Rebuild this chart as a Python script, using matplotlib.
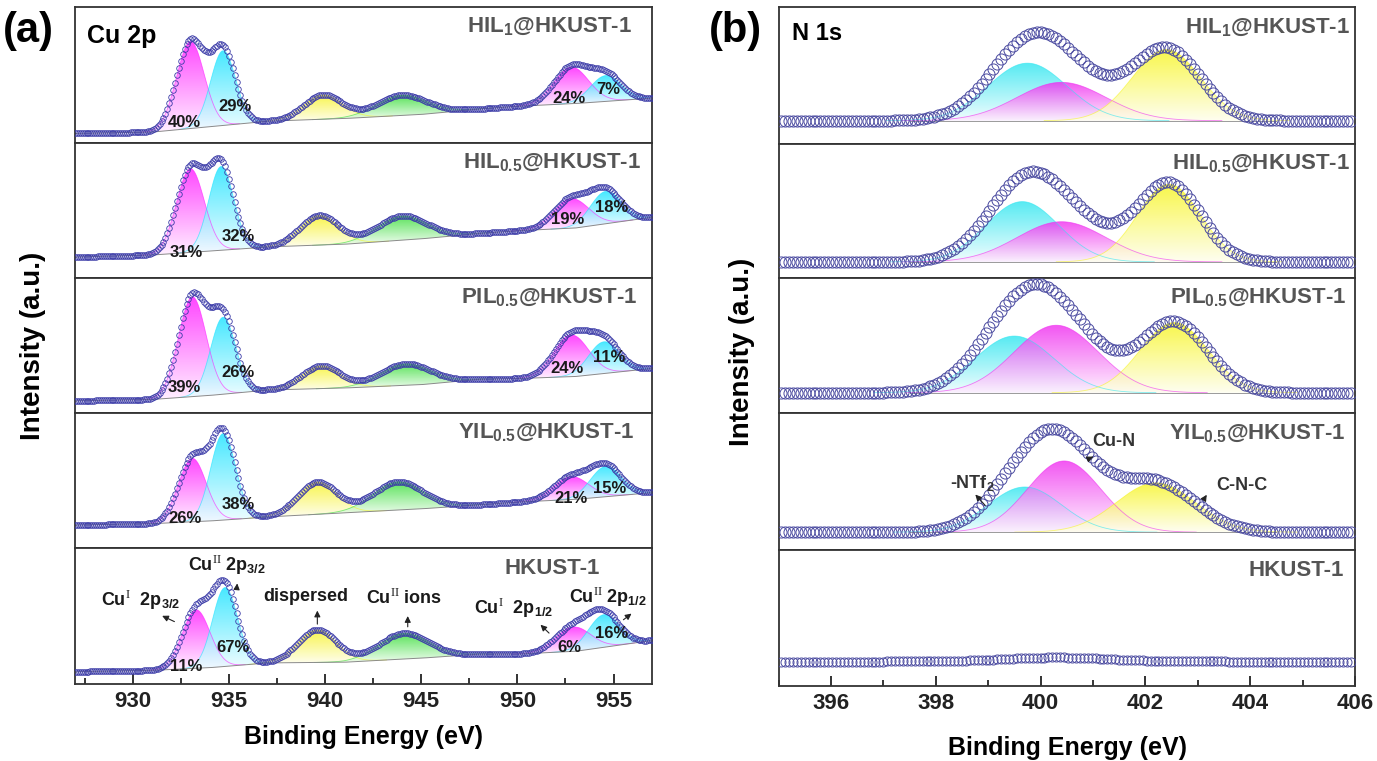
import numpy as np
import matplotlib
matplotlib.use('Agg')
import matplotlib.pyplot as plt
from matplotlib.patches import Polygon
from matplotlib.colors import LinearSegmentedColormap
from matplotlib.ticker import MultipleLocator

plt.rcParams['font.family'] = ['Liberation Sans', 'DejaVu Sans']
plt.rcParams['mathtext.fontset'] = 'custom'
plt.rcParams['mathtext.rm'] = 'Liberation Serif'
plt.rcParams['mathtext.default'] = 'regular'

# ---- panel (a): Cu 2p fits, peak order: CuI 3/2, CuII 3/2, sat1, sat2, CuI 1/2, CuII 1/2
sample_names = ['HIL$_1$@HKUST-1', 'HIL$_{0.5}$@HKUST-1', 'PIL$_{0.5}$@HKUST-1',
                'YIL$_{0.5}$@HKUST-1', 'HKUST-1']
cu_colors = ['#ff1aff', '#19e3ff', '#f7f21c', '#2fdc2f', '#ff1aff', '#19e3ff']
cu_sigma = [0.72, 0.65, 1.0, 1.3, 0.9, 0.8]
cu_centers = [[933.0, 934.7, 939.9, 944.0, 952.8, 954.6],
              [933.0, 934.6, 939.7, 944.0, 952.8, 954.6],
              [933.1, 934.7, 939.8, 944.2, 952.8, 954.5],
              [933.1, 934.7, 939.6, 943.8, 952.8, 954.6],
              [933.3, 934.8, 939.6, 944.1, 952.9, 954.5]]
cu_amps = [[0.64, 0.55, 0.18, 0.15, 0.27, 0.19],
           [0.62, 0.62, 0.22, 0.18, 0.22, 0.24],
           [0.74, 0.57, 0.17, 0.16, 0.31, 0.235],
           [0.47, 0.64, 0.24, 0.21, 0.17, 0.225],
           [0.43, 0.58, 0.24, 0.19, 0.18, 0.24]]
cu_bg_e = [927, 931, 934, 937, 941, 945, 948, 950, 953, 957]
cu_bg = [[0.07, 0.08, 0.12, 0.16, 0.18, 0.21, 0.25, 0.27, 0.29, 0.33],
         [0.155, 0.17, 0.20, 0.23, 0.25, 0.29, 0.33, 0.35, 0.37, 0.45],
         [0.09, 0.10, 0.13, 0.17, 0.185, 0.21, 0.25, 0.255, 0.27, 0.33],
         [0.17, 0.18, 0.20, 0.23, 0.26, 0.29, 0.32, 0.34, 0.36, 0.41],
         [0.09, 0.10, 0.12, 0.155, 0.16, 0.19, 0.22, 0.22, 0.24, 0.32]]
cu_pct = [['40%', '29%', '24%', '7%'],
          ['31%', '32%', '19%', '18%'],
          ['39%', '26%', '24%', '11%'],
          ['26%', '38%', '21%', '15%'],
          ['11%', '67%', '6%', '16%']]
cu_pct_e = [[932.7, 935.3, 952.7, 954.7],
            [932.8, 935.5, 952.6, 954.9],
            [932.7, 935.5, 952.6, 954.8],
            [932.7, 935.5, 952.8, 954.8],
            [932.8, 935.2, 952.7, 954.9]]
cu_pct_y = [[0.15, 0.27, 0.33, 0.39],
            [0.19, 0.31, 0.43, 0.52],
            [0.19, 0.30, 0.33, 0.41],
            [0.22, 0.32, 0.37, 0.44],
            [0.13, 0.27, 0.27, 0.375]]
cu_name_x = [0.965, 0.98, 0.975, 0.97, 0.91]

# ---- panel (b): N 1s fits, peak order: -NTf2, Cu-N, C-N-C
n_colors = ['#2ee6f0', '#f02cf0', '#f7f51e']
n_centers = [[399.75, 400.4, 402.4],
             [399.65, 400.4, 402.45],
             [399.5, 400.3, 402.55],
             [399.7, 400.45, 402.2]]
n_amps = [[0.42, 0.28, 0.52],
          [0.45, 0.30, 0.58],
          [0.42, 0.50, 0.52],
          [0.33, 0.52, 0.36]]
n_sigmas = [[0.75, 0.85, 0.65],
            [0.70, 0.85, 0.60],
            [0.75, 0.80, 0.65],
            [0.70, 0.70, 0.75]]
n_bg = [0.17, 0.12, 0.15, 0.13, 0.18]
hkust_bump = [400.3, 0.03, 1.0]
n_name_x = [0.991, 0.991, 0.985, 0.983, 0.98]

W, H = 1377, 761
fig = plt.figure(figsize=(W / 100, H / 100), dpi=100)


def px_axes(x0, x1, y0, y1):
    return fig.add_axes([x0 / W, 1 - y1 / H, (x1 - x0) / W, (y1 - y0) / H])


def peak(x, c, a, s):
    return a * np.exp(-(x - c) ** 2 / (2 * s ** 2))


def grad_fill(ax, x, lo, hi, color, alpha=0.85):
    verts = np.vstack([np.column_stack([x, hi]), np.column_stack([x[::-1], lo[::-1]])])
    poly = Polygon(verts, closed=True, fc='none', ec='none')
    ax.add_patch(poly)
    cmap = LinearSegmentedColormap.from_list('fade', ['#ffffff', color])
    grad = np.linspace(0.08, 1, 200).reshape(-1, 1)
    im = ax.imshow(grad, cmap=cmap, vmin=0, vmax=1, origin='lower', aspect='auto',
                   extent=[x[0], x[-1], lo.min(), hi.max()], alpha=alpha, zorder=1,
                   interpolation='bilinear')
    im.set_clip_path(poly)
    ax.plot(x, hi, color=color, lw=0.6, alpha=0.6, zorder=2)


def style_axes(ax, xlim, bottom, major, minor):
    ax.set_xlim(*xlim)
    ax.set_ylim(0, 1)
    ax.set_yticks([])
    for sp in ax.spines.values():
        sp.set_linewidth(1.3)
        sp.set_color('#333333')
    if bottom:
        ax.xaxis.set_major_locator(MultipleLocator(major))
        ax.xaxis.set_minor_locator(MultipleLocator(minor))
        ax.tick_params(axis='x', which='major', direction='in', length=7, width=1.3,
                       labelsize=16, pad=5, colors='#222222')
        ax.tick_params(axis='x', which='minor', direction='in', length=4, width=1.1)
        for lab in ax.get_xticklabels():
            lab.set_fontweight('bold')
    else:
        ax.tick_params(axis='x', which='both', bottom=False, labelbottom=False)


# ---- draw (a)
cu_tops = [7, 143, 278, 413, 548]
cu_bots = [143, 278, 413, 548, 684]
xe = np.arange(927.0, 957.01, 0.05)
for i in range(5):
    ax = px_axes(75, 652, cu_tops[i], cu_bots[i])
    bg = np.interp(xe, cu_bg_e, cu_bg[i])
    total = bg.copy()
    for k in range(6):
        c, a, s = cu_centers[i][k], cu_amps[i][k], cu_sigma[k]
        m = np.abs(xe - c) < 3.6 * s
        pk = peak(xe, c, a, s)
        total += pk
        grad_fill(ax, xe[m], bg[m], bg[m] + pk[m], cu_colors[k], alpha=0.8)
    ax.plot(xe, bg, color='#8a8a8a', lw=0.7, zorder=2)
    ax.plot(xe[::2], total[::2], 'o', ms=4.0, mfc='none', mec='#3c3ca8', mew=0.6, zorder=3)
    for t, e, y in zip(cu_pct[i], cu_pct_e[i], cu_pct_y[i]):
        ax.text(e, y, t, fontsize=12, fontweight='bold', color='#1a1a1a',
                ha='center', va='center', zorder=5)
    ax.text(cu_name_x[i], 0.85, sample_names[i], transform=ax.transAxes, ha='right',
            va='center', fontsize=16, fontweight='bold', color='#555555', zorder=5)
    style_axes(ax, (927, 957), i == 4, 5, 2.5)
    if i == 0:
        ax.text(0.02, 0.79, 'Cu 2p', transform=ax.transAxes, fontsize=18,
                fontweight='bold', va='center', ha='left')
    if i == 4:
        arrow = dict(arrowstyle='-|>', lw=0.8, color='#222222', mutation_scale=9)
        notes = [('Cu$^{\\mathrm{I}}$  2p$_{3/2}$', 930.4, 0.62, (932.3, 0.45), (931.4, 0.51)),
                 ('Cu$^{\\mathrm{II}}$ 2p$_{3/2}$', 934.9, 0.875, (935.4, 0.69), (935.45, 0.76)),
                 ('dispersed', 939.0, 0.64, (939.6, 0.42), (939.6, 0.56)),
                 ('Cu$^{\\mathrm{II}}$ ions', 944.1, 0.63, (944.3, 0.40), (944.3, 0.52)),
                 ('Cu$^{\\mathrm{I}}$  2p$_{1/2}$', 949.8, 0.56, (951.75, 0.36), (951.1, 0.45)),
                 ('Cu$^{\\mathrm{II}}$ 2p$_{1/2}$', 954.7, 0.64, (955.4, 0.46), (956.05, 0.53))]
        for t, e, y, tail, tip in notes:
            ax.text(e, y, t, fontsize=13, fontweight='bold', color='#1a1a1a',
                    ha='center', va='center', zorder=5)
            ax.annotate('', xy=tip, xytext=tail, arrowprops=arrow, zorder=5)

# ---- draw (b)
n_tops = [7, 144, 278, 413, 550]
n_bots = [144, 278, 413, 550, 686]
xn = np.arange(395.0, 406.001, 0.01)
xd = np.arange(395.05, 406.0, 0.075)
for i in range(5):
    ax = px_axes(778.5, 1355, n_tops[i], n_bots[i])
    bg = np.full_like(xn, n_bg[i])
    total = np.full_like(xd, n_bg[i])
    if i < 4:
        for k in range(3):
            c, a, s = n_centers[i][k], n_amps[i][k], n_sigmas[i][k]
            m = np.abs(xn - c) < 3.6 * s
            grad_fill(ax, xn[m], bg[m], bg[m] + peak(xn[m], c, a, s), n_colors[k], alpha=0.8)
            total += peak(xd, c, a, s)
        m = (xn > 397.5) & (xn < 404.5)
        ax.plot(xn[m], bg[m], color='#9a9a9a', lw=0.7, zorder=2)
        ax.plot(xd, total, 'o', ms=8, mfc='none', mec='#4a4aa0', mew=0.7, zorder=3)
    else:
        total += peak(xd, *hkust_bump)
        ax.plot(xd, total, 'o', ms=6.5, mfc='none', mec='#4a4aa0', mew=0.7, zorder=3)
    ax.text(n_name_x[i], 0.85, sample_names[i], transform=ax.transAxes, ha='right',
            va='center', fontsize=16, fontweight='bold', color='#555555', zorder=5)
    style_axes(ax, (395, 406), i == 4, 2, 1)
    if i == 0:
        ax.text(0.023, 0.81, 'N 1s', transform=ax.transAxes, fontsize=17,
                fontweight='bold', va='center', ha='left')
    if i == 3:
        arrow = dict(arrowstyle='-|>', lw=0.8, color='#222222', mutation_scale=9)
        notes = [('-NTf$_2$', 398.7, 0.49, (398.98, 0.31), (398.72, 0.42)),
                 ('Cu-N', 401.4, 0.79, (400.94, 0.67), (401.05, 0.69)),
                 ('C-N-C', 403.85, 0.47, (403.1, 0.36), (403.2, 0.42))]
        for t, e, y, tail, tip in notes:
            ax.text(e, y, t, fontsize=13, fontweight='bold', color='#333333',
                    ha='center', va='center', zorder=5)
            ax.annotate('', xy=tip, xytext=tail, arrowprops=arrow, zorder=5)

# ---- figure labels
fig.text(28 / W, 1 - 31 / H, '(a)', fontsize=30, fontweight='bold', ha='center', va='center')
fig.text(735 / W, 1 - 31 / H, '(b)', fontsize=30, fontweight='bold', ha='center', va='center')
fig.text(33 / W, 1 - 346 / H, 'Intensity (a.u.)', rotation=90, fontsize=20,
         fontweight='bold', ha='center', va='center')
fig.text(742 / W, 1 - 352 / H, 'Intensity (a.u.)', rotation=90, fontsize=20,
         fontweight='bold', ha='center', va='center')
fig.text(363 / W, 1 - 737 / H, 'Binding Energy (eV)', fontsize=18, fontweight='bold',
         ha='center', va='center')
fig.text(1067 / W, 1 - 748 / H, 'Binding Energy (eV)', fontsize=18, fontweight='bold',
         ha='center', va='center')

fig.savefig('out.png', dpi=100)
